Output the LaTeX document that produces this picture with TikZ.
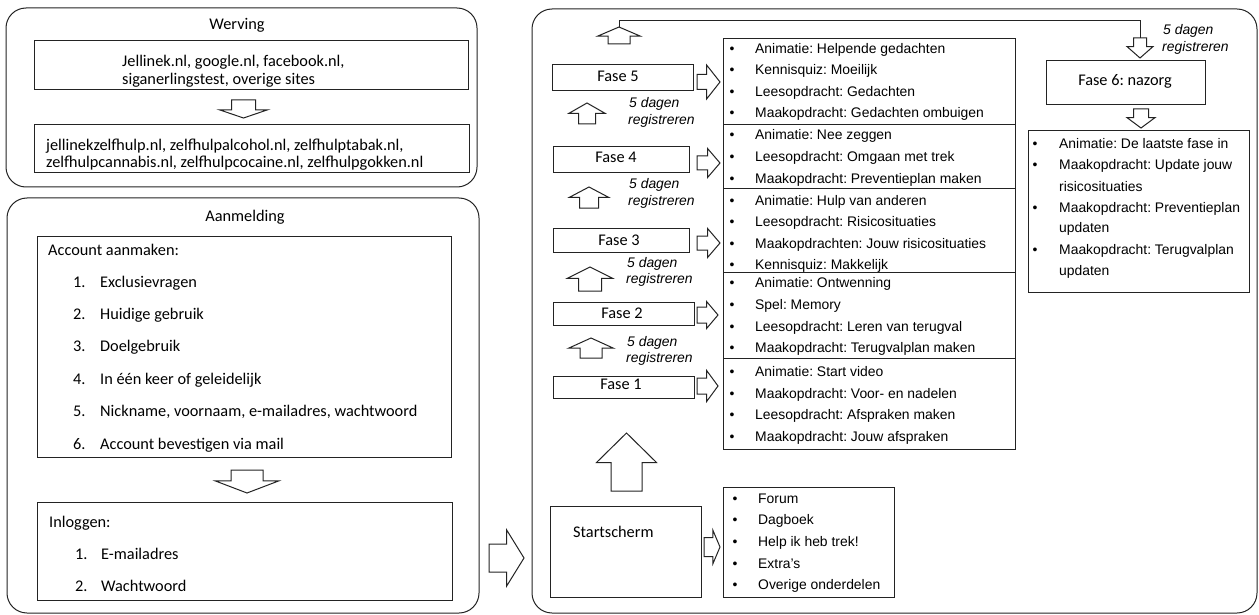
\documentclass[tikz,border=0pt]{standalone}
\usepackage{fontspec}
\setmainfont{Carlito}
\newfontfamily\arialfont{Liberation Sans}
\frenchspacing
\usepackage{tikz}
\usetikzlibrary{shapes.arrows}
\definecolor{lijn}{RGB}{35,35,35}
\tikzset{
  panel/.style={draw=lijn, line width=1pt, rounded corners=20pt},
  kader/.style={draw=lijn, line width=1pt},
  cal/.style={font=\fontsize{16.3}{19.8}\selectfont, inner sep=0pt},
  ari/.style={font=\arialfont\fontsize{13.9}{17}\selectfont, inner sep=0pt, anchor=base west},
  bol/.style={font=\arialfont\fontsize{13.9}{17}\selectfont, inner sep=0pt, anchor=base},
  dagen/.style={font=\arialfont\itshape\fontsize{13.9}{17}\selectfont, inner sep=0pt, anchor=base west},
  blokpijl/.style n args={4}{single arrow, draw=lijn, line width=1pt, fill=white,
    inner xsep=0pt, outer sep=0pt, minimum width=0pt,
    single arrow head extend={(#2pt-#3pt)/2},
    minimum height=#1pt, inner ysep=#3pt/2,
    single arrow tip angle={2*atan(#2/(2*#4))}, anchor=tip},
}

\begin{document}
\begin{tikzpicture}[x=1pt,y=-1pt]
\useasboundingbox (0,0) rectangle (1259,615);

  %% Werving
  \draw[panel] (6,8) rectangle (477,187);
  \node[cal, anchor=base] (werving) at (237,30) {Werving};
  \draw[kader] (34,41) rectangle (468,90);
  \node[cal, anchor=base west] (bron1) at (122,67) {Jellinek.nl, google.nl, facebook.nl,};
  \node[cal, anchor=base west] (bron2) at (122,85) {siganerlingstest, overige sites};
  \node[blokpijl={18}{47}{23}{8}, rotate=-90] (pijlw) at (243.5,118) {};
  \draw[kader] (34,125) rectangle (469,173);
  \node[cal, anchor=base west] (site1) at (46,151) {jellinekzelfhulp.nl, zelfhulpalcohol.nl, zelfhulptabak.nl,};
  \node[cal, anchor=base west] (site2) at (46,167.5) {zelfhulpcannabis.nl, zelfhulpcocaine.nl, zelfhulpgokken.nl};

  %% Aanmelding
  \draw[panel] (7,198) rectangle (479,613);
  \node[cal, anchor=base] (aanmelding) at (245,222) {Aanmelding};
  \draw[kader] (37,236) rectangle (451,457);
  \node[cal, anchor=base west] (account) at (48,255) {Account aanmaken:};
  \foreach \n/\y/\t in {1/287/Exclusievragen,
                        2/319.4/Huidige gebruik,
                        3/351.8/Doelgebruik,
                        4/384.2/In één keer of geleidelijk,
                        5/416.6/{Nickname, voornaam, e-mailadres, wachtwoord},
                        6/449/Account bevestigen via mail
                        }{
    \node[cal, anchor=base west] (accnr\n) at (73,\y) {\n.};
    \node[cal, anchor=base west] (acc\n) at (100,\y) {\t};
  }
  \node[blokpijl={23}{63}{31}{12}, rotate=-90] (pijla) at (247,493) {};
  \draw[kader] (37,502) rectangle (452,600);
  \node[cal, anchor=base west] (inloggen) at (49,527) {Inloggen:};
  \foreach \n/\y/\t in {1/559/E-mailadres,
                        2/591.5/Wachtwoord
                        }{
    \node[cal, anchor=base west] (lognr\n) at (75,\y) {\n.};
    \node[cal, anchor=base west] (log\n) at (101,\y) {\t};
  }

  \node[blokpijl={35}{55}{27}{17}] (pijlm) at (524,558) {};

  %% Fases
  \draw[panel] (532,9) rectangle (1257,613);
  \foreach \n/\a/\b/\c/\d/\x/\y in {5/552/65/693/91/618/82,
                                    4/553/147/689/173/616/163,
                                    3/553/228/689/252/619/245,
                                    2/553/302/694/325/622/318,
                                    1/553/376/694/398/621/389
                                    }{
    \draw[kader] (\a,\b) rectangle (\c,\d);
    \node[cal, anchor=base] (fase\n) at (\x,\y) {Fase \n};
  }
  \node[blokpijl={23}{33}{14}{13}] (pijl5) at (720,82) {};
  \node[blokpijl={23}{28}{13}{12}] (pijl4) at (720,163) {};
  \node[blokpijl={23}{28}{13}{12}] (pijl3) at (720,243) {};
  \node[blokpijl={21}{26}{15}{11}] (pijl2) at (718,315) {};
  \node[blokpijl={21}{30}{15}{11}] (pijl1) at (718,386) {};

  \node[blokpijl={21}{35}{16}{10}, rotate=90] (op45) at (587,103) {};
  \node[blokpijl={21}{38}{18}{10}, rotate=90] (op34) at (589,187) {};
  \node[blokpijl={24}{44}{22}{11}, rotate=90] (op23) at (590,267) {};
  \node[blokpijl={20}{44}{21}{10}, rotate=90] (op12) at (591,338) {};
  \foreach \n/\x/\y in {45/629/108, 34/629/189, 23/627/267, 12/627/346}{
    \node[dagen] (dag\n) at (\x,\y) {5 dagen};
    \node[dagen] (reg\n) at (\x-1,\y+16.5) {registreren};
  }

  %% Naar fase 6
  \node[blokpijl={17}{42}{21}{9}, rotate=90] (op56) at (619,27) {};
  \node[blokpijl={20}{25}{12}{11}, rotate=-90] (neer6) at (1140,58) {};
  \draw[lijn, line width=1pt] (op56.tip) -- ++(0,-6) -| (neer6.tail);
  \node[dagen] (dag6) at (1163,35) {5 dagen};
  \node[dagen] (reg6) at (1162,52) {registreren};
  \draw[kader] (1046,61) rectangle (1205,105);
  \node[cal, anchor=base] (fase6) at (1125,86) {Fase 6: nazorg};
  \node[blokpijl={19}{27}{14}{10}, rotate=-90] (neer6b) at (1141,128) {};
  \draw[kader] (1028,131) rectangle (1249,292);
  \foreach \y/\t [count=\i] in {149/Animatie: De laatste fase in,
                                170/Maakopdracht: Update jouw,
                                191/risicosituaties,
                                212/Maakopdracht: Preventieplan,
                                233/updaten,
                                254/Maakopdracht: Terugvalplan,
                                275/updaten
                                }{
    \node[ari] (nazorg\i) at (1059,\y) {\t};
  }
  \foreach \y [count=\i] in {149,170,212,254}{
    \node[bol] (bol6\i) at (1035,\y) {\textbullet};
  }

  %% Onderdelen per fase
  \draw[kader] (723,39) rectangle (1015,449);
  \foreach \y in {125,189,272,358}{
    \draw[kader] (723,\y) -- (1015,\y);
  }
  \foreach \y/\t [count=\i] in {54/Animatie: Helpende gedachten,
                                75/Kennisquiz: Moeilijk,
                                97/Leesopdracht: Gedachten,
                                118/Maakopdracht: Gedachten ombuigen,
                                140/Animatie: Nee zeggen,
                                162/Leesopdracht: Omgaan met trek,
                                183/Maakopdracht: Preventieplan maken,
                                205/Animatie: Hulp van anderen,
                                226.5/Leesopdracht: Risicosituaties,
                                248/Maakopdrachten: Jouw risicosituaties,
                                269.5/Kennisquiz: Makkelijk,
                                287/Animatie: Ontwenning,
                                309/Spel: Memory,
                                331/Leesopdracht: Leren van terugval,
                                352/Maakopdracht: Terugvalplan maken,
                                376/Animatie: Start video,
                                398/Maakopdracht: Voor- en nadelen,
                                419/Leesopdracht: Afspraken maken,
                                441/Maakopdracht: Jouw afspraken
                                }{
    \node[bol] (bol\i) at (732,\y) {\textbullet};
    \node[ari] (item\i) at (755,\y) {\t};
  }

  %% Startscherm
  \node[blokpijl={58}{59}{30}{29}, rotate=90] (opstart) at (626.5,433) {};
  \draw[kader] (550,506) rectangle (701,597);
  \node[cal, anchor=base west] (start) at (573,537) {Startscherm};
  \node[blokpijl={16}{33}{18}{7}] (pijls) at (720,547) {};
  \draw[kader] (723,487) rectangle (894,597);
  \foreach \y/\t [count=\i] in {503/Forum,
                                524/Dagboek,
                                546/Help ik heb trek!,
                                568/Extra’s,
                                589/Overige onderdelen
                                }{
    \node[bol] (bols\i) at (735,\y) {\textbullet};
    \node[ari] (start\i) at (758,\y) {\t};
  }

\end{tikzpicture}
\end{document}
